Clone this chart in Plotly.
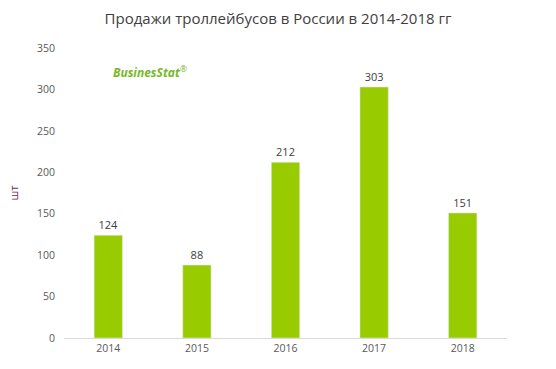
import plotly.graph_objects as go

years = ["2014", "2015", "2016", "2017", "2018"]
sales = [124, 88, 212, 303, 151]

fig = go.Figure()
fig.add_trace(go.Bar(
    x=years, y=sales, marker_color="#99cc00", width=0.32,
    text=[str(v) for v in sales], textposition="outside",
    textfont=dict(size=11, color="#404040"), cliponaxis=False,
    hoverinfo="skip",
))
fig.update_layout(
    width=556, height=369,
    paper_bgcolor="white", plot_bgcolor="white",
    margin=dict(l=64, r=49, t=48, b=31, autoexpand=False),
    font=dict(family="Open Sans, Liberation Sans, sans-serif", color="#595959", size=11),
    title=dict(text="Продажи троллейбусов в России в 2014-2018 гг", x=0.5, xanchor="center",
               y=0.948, yanchor="middle", font=dict(size=15, color="#404040")),
    showlegend=False,
)
fig.update_yaxes(range=[0, 350], dtick=50, showgrid=False, zeroline=False, showline=False,
                 ticks="", ticklabelstandoff=8, tickfont=dict(size=10.5, color="#595959"),
                 automargin=False,
                 title=dict(text="шт", font=dict(size=11, color="#6b2c4f"), standoff=16))
fig.update_xaxes(showline=True, linecolor="#d9d9d9", linewidth=1, ticks="", automargin=False,
                 tickfont=dict(size=10.5, color="#595959"))
fig.add_annotation(xref="paper", yref="paper", x=0.194, y=0.917, xanchor="center", yanchor="middle",
                   text="<b><i>BusinesStat</i></b><sup>®</sup>", showarrow=False,
                   font=dict(size=12, color="#77b82a"))
fig.write_html("out.html", config={"displayModeBar": False},
               post_script="document.body.style.margin='0';")
